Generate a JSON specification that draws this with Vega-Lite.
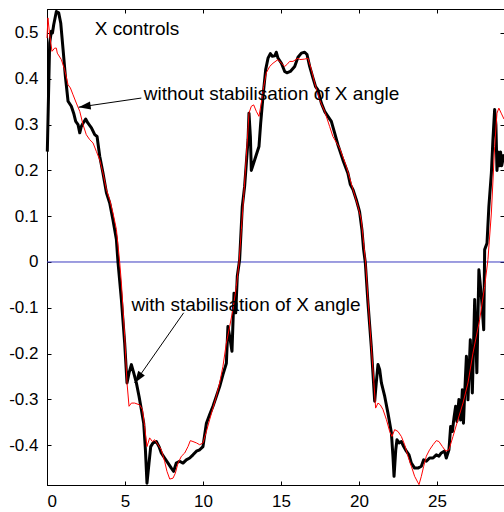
{
  "$schema": "https://vega.github.io/schema/vega-lite/v6.json",
  "width": 457,
  "height": 476,
  "autosize": {"type": "none"},
  "padding": {"left": 47, "top": 9, "right": 0, "bottom": 27},
  "background": "white",
  "config": {
    "view": {"stroke": "black", "strokeWidth": 1},
    "axis": {"grid": false, "domainColor": "black", "tickColor": "black", "labelColor": "black", "labelFont": "Liberation Sans", "labelFontSize": 17, "title": null}
  },
  "datasets": {
    "black": [
      {"t":0.02,"v":0.241},{"t":0.17,"v":0.478},{"t":0.28,"v":0.504},{"t":0.35,"v":0.5},{"t":0.43,"v":0.518},{"t":0.6,"v":0.547},{"t":0.75,"v":0.544},{"t":0.88,"v":0.522},{"t":1.03,"v":0.464},{"t":1.18,"v":0.405},{"t":1.35,"v":0.351},{"t":1.56,"v":0.34},{"t":1.71,"v":0.325},{"t":1.84,"v":0.307},{"t":1.99,"v":0.3},{"t":2.1,"v":0.282},{"t":2.2,"v":0.296},{"t":2.31,"v":0.303},{"t":2.48,"v":0.312},{"t":2.63,"v":0.303},{"t":2.85,"v":0.293},{"t":3.06,"v":0.278},{"t":3.21,"v":0.274},{"t":3.38,"v":0.231},{"t":3.59,"v":0.194},{"t":3.81,"v":0.151},{"t":4.02,"v":0.129},{"t":4.23,"v":0.092},{"t":4.45,"v":0.049},{"t":4.55,"v":0.0},{"t":4.77,"v":-0.082},{"t":4.98,"v":-0.177},{"t":5.13,"v":-0.264},{"t":5.26,"v":-0.242},{"t":5.41,"v":-0.224},{"t":5.56,"v":-0.242},{"t":5.73,"v":-0.264},{"t":5.9,"v":-0.293},{"t":6.05,"v":-0.322},{"t":6.2,"v":-0.352},{"t":6.31,"v":-0.41},{"t":6.41,"v":-0.483},{"t":6.54,"v":-0.439},{"t":6.65,"v":-0.403},{"t":6.8,"v":-0.395},{"t":7.01,"v":-0.392},{"t":7.18,"v":-0.403},{"t":7.33,"v":-0.417},{"t":7.54,"v":-0.428},{"t":7.76,"v":-0.439},{"t":7.97,"v":-0.45},{"t":8.12,"v":-0.457},{"t":8.29,"v":-0.439},{"t":8.5,"v":-0.435},{"t":8.72,"v":-0.439},{"t":8.93,"v":-0.432},{"t":9.15,"v":-0.428},{"t":9.36,"v":-0.421},{"t":9.58,"v":-0.413},{"t":9.79,"v":-0.41},{"t":10.0,"v":-0.403},{"t":10.22,"v":-0.352},{"t":10.43,"v":-0.333},{"t":10.64,"v":-0.315},{"t":10.86,"v":-0.293},{"t":11.07,"v":-0.272},{"t":11.28,"v":-0.246},{"t":11.5,"v":-0.221},{"t":11.6,"v":-0.141},{"t":11.71,"v":-0.162},{"t":11.86,"v":-0.195},{"t":11.99,"v":-0.068},{"t":12.1,"v":-0.111},{"t":12.2,"v":-0.031},{"t":12.35,"v":0.005},{"t":12.52,"v":0.121},{"t":12.67,"v":0.165},{"t":12.78,"v":0.216},{"t":12.89,"v":0.267},{"t":12.95,"v":0.325},{"t":13.04,"v":0.274},{"t":13.1,"v":0.2},{"t":13.25,"v":0.216},{"t":13.42,"v":0.234},{"t":13.59,"v":0.252},{"t":13.7,"v":0.303},{"t":13.85,"v":0.362},{"t":14.02,"v":0.42},{"t":14.17,"v":0.445},{"t":14.32,"v":0.455},{"t":14.45,"v":0.449},{"t":14.6,"v":0.45},{"t":14.7,"v":0.458},{"t":14.81,"v":0.445},{"t":15.03,"v":0.434},{"t":15.24,"v":0.416},{"t":15.38,"v":0.413},{"t":15.6,"v":0.416},{"t":15.88,"v":0.427},{"t":16.09,"v":0.447},{"t":16.31,"v":0.456},{"t":16.52,"v":0.458},{"t":16.67,"v":0.453},{"t":16.84,"v":0.427},{"t":17.05,"v":0.402},{"t":17.22,"v":0.383},{"t":17.37,"v":0.376},{"t":17.59,"v":0.347},{"t":17.8,"v":0.329},{"t":18.01,"v":0.318},{"t":18.23,"v":0.307},{"t":18.44,"v":0.282},{"t":18.65,"v":0.256},{"t":18.97,"v":0.223},{"t":19.29,"v":0.194},{"t":19.45,"v":0.169},{"t":19.62,"v":0.158},{"t":19.83,"v":0.136},{"t":20.04,"v":0.11},{"t":20.19,"v":0.071},{"t":20.3,"v":0.027},{"t":20.41,"v":-0.002},{"t":20.58,"v":-0.09},{"t":20.79,"v":-0.184},{"t":21.01,"v":-0.304},{"t":21.11,"v":-0.264},{"t":21.22,"v":-0.224},{"t":21.33,"v":-0.235},{"t":21.44,"v":-0.264},{"t":21.65,"v":-0.293},{"t":21.86,"v":-0.33},{"t":22.08,"v":-0.373},{"t":22.18,"v":-0.424},{"t":22.25,"v":-0.468},{"t":22.36,"v":-0.41},{"t":22.44,"v":-0.388},{"t":22.57,"v":-0.395},{"t":22.72,"v":-0.392},{"t":22.87,"v":-0.403},{"t":23.04,"v":-0.413},{"t":23.21,"v":-0.421},{"t":23.36,"v":-0.439},{"t":23.57,"v":-0.45},{"t":23.78,"v":-0.45},{"t":24.0,"v":-0.446},{"t":24.15,"v":-0.432},{"t":24.32,"v":-0.435},{"t":24.53,"v":-0.428},{"t":24.75,"v":-0.428},{"t":24.96,"v":-0.421},{"t":25.13,"v":-0.424},{"t":25.28,"v":-0.417},{"t":25.49,"v":-0.413},{"t":25.6,"v":-0.428},{"t":25.77,"v":-0.41},{"t":25.88,"v":-0.359},{"t":25.99,"v":-0.37},{"t":26.09,"v":-0.341},{"t":26.2,"v":-0.315},{"t":26.28,"v":-0.348},{"t":26.41,"v":-0.3},{"t":26.52,"v":-0.345},{"t":26.63,"v":-0.279},{"t":26.7,"v":-0.352},{"t":26.78,"v":-0.286},{"t":26.89,"v":-0.206},{"t":26.99,"v":-0.301},{"t":27.14,"v":-0.17},{"t":27.27,"v":-0.286},{"t":27.42,"v":-0.082},{"t":27.56,"v":-0.242},{"t":27.69,"v":-0.017},{"t":27.85,"v":-0.075},{"t":28.0,"v":-0.148},{"t":28.06,"v":0.027},{"t":28.21,"v":0.041},{"t":28.33,"v":0.121},{"t":28.49,"v":0.194},{"t":28.59,"v":0.267},{"t":28.7,"v":0.333},{"t":28.78,"v":0.3},{"t":28.85,"v":0.2},{"t":28.92,"v":0.24},{"t":29.0,"v":0.21},{"t":29.08,"v":0.24},{"t":29.15,"v":0.21},{"t":29.3,"v":0.235}
    ],
    "red": [
      {"t":0.0,"v":0.489},{"t":0.06,"v":0.533},{"t":0.17,"v":0.496},{"t":0.32,"v":0.46},{"t":0.49,"v":0.467},{"t":0.6,"v":0.467},{"t":0.66,"v":0.456},{"t":0.92,"v":0.442},{"t":1.13,"v":0.42},{"t":1.35,"v":0.387},{"t":1.5,"v":0.38},{"t":1.67,"v":0.365},{"t":1.88,"v":0.347},{"t":2.1,"v":0.329},{"t":2.31,"v":0.3},{"t":2.52,"v":0.278},{"t":2.74,"v":0.267},{"t":2.95,"v":0.26},{"t":3.17,"v":0.241},{"t":3.38,"v":0.223},{"t":3.59,"v":0.194},{"t":3.81,"v":0.158},{"t":4.02,"v":0.136},{"t":4.23,"v":0.107},{"t":4.45,"v":0.071},{"t":4.66,"v":0.0},{"t":4.77,"v":-0.046},{"t":4.98,"v":-0.162},{"t":5.13,"v":-0.264},{"t":5.26,"v":-0.315},{"t":5.41,"v":-0.308},{"t":5.62,"v":-0.308},{"t":5.94,"v":-0.312},{"t":6.12,"v":-0.322},{"t":6.26,"v":-0.359},{"t":6.41,"v":-0.403},{"t":6.58,"v":-0.384},{"t":6.76,"v":-0.392},{"t":6.9,"v":-0.388},{"t":7.12,"v":-0.399},{"t":7.33,"v":-0.41},{"t":7.54,"v":-0.435},{"t":7.69,"v":-0.457},{"t":7.87,"v":-0.474},{"t":8.08,"v":-0.472},{"t":8.23,"v":-0.461},{"t":8.4,"v":-0.439},{"t":8.62,"v":-0.424},{"t":8.83,"v":-0.417},{"t":9.04,"v":-0.403},{"t":9.19,"v":-0.39},{"t":9.36,"v":-0.392},{"t":9.58,"v":-0.395},{"t":9.79,"v":-0.399},{"t":10.0,"v":-0.395},{"t":10.22,"v":-0.37},{"t":10.43,"v":-0.344},{"t":10.64,"v":-0.319},{"t":10.86,"v":-0.293},{"t":11.07,"v":-0.264},{"t":11.28,"v":-0.228},{"t":11.5,"v":-0.177},{"t":11.71,"v":-0.141},{"t":11.92,"v":-0.104},{"t":12.14,"v":-0.053},{"t":12.31,"v":-0.002},{"t":12.46,"v":0.071},{"t":12.61,"v":0.143},{"t":12.78,"v":0.231},{"t":12.95,"v":0.325},{"t":13.1,"v":0.34},{"t":13.25,"v":0.343},{"t":13.42,"v":0.329},{"t":13.59,"v":0.318},{"t":13.74,"v":0.347},{"t":13.89,"v":0.383},{"t":14.06,"v":0.413},{"t":14.28,"v":0.427},{"t":14.49,"v":0.434},{"t":14.81,"v":0.442},{"t":15.03,"v":0.434},{"t":15.24,"v":0.427},{"t":15.38,"v":0.431},{"t":15.56,"v":0.438},{"t":15.77,"v":0.438},{"t":16.09,"v":0.445},{"t":16.22,"v":0.442},{"t":16.52,"v":0.443},{"t":16.73,"v":0.445},{"t":16.95,"v":0.42},{"t":17.16,"v":0.391},{"t":17.48,"v":0.354},{"t":17.8,"v":0.329},{"t":18.12,"v":0.296},{"t":18.33,"v":0.274},{"t":18.76,"v":0.249},{"t":19.19,"v":0.209},{"t":19.62,"v":0.158},{"t":19.94,"v":0.121},{"t":20.15,"v":0.092},{"t":20.3,"v":0.041},{"t":20.43,"v":-0.002},{"t":20.58,"v":-0.082},{"t":20.79,"v":-0.184},{"t":20.96,"v":-0.264},{"t":21.07,"v":-0.319},{"t":21.22,"v":-0.308},{"t":21.37,"v":-0.312},{"t":21.54,"v":-0.322},{"t":21.76,"v":-0.344},{"t":21.97,"v":-0.37},{"t":22.12,"v":-0.381},{"t":22.29,"v":-0.366},{"t":22.5,"v":-0.37},{"t":22.72,"v":-0.381},{"t":22.93,"v":-0.399},{"t":23.14,"v":-0.424},{"t":23.36,"v":-0.446},{"t":23.57,"v":-0.468},{"t":23.85,"v":-0.486},{"t":24.0,"v":-0.468},{"t":24.15,"v":-0.446},{"t":24.32,"v":-0.424},{"t":24.53,"v":-0.41},{"t":24.75,"v":-0.399},{"t":24.96,"v":-0.39},{"t":25.13,"v":-0.392},{"t":25.35,"v":-0.403},{"t":25.56,"v":-0.413},{"t":25.77,"v":-0.41},{"t":26.03,"v":-0.381},{"t":26.35,"v":-0.344},{"t":26.67,"v":-0.308},{"t":26.99,"v":-0.264},{"t":27.31,"v":-0.199},{"t":27.74,"v":-0.126},{"t":28.06,"v":-0.053},{"t":28.27,"v":0.005},{"t":28.49,"v":0.107},{"t":28.7,"v":0.252},{"t":28.85,"v":0.325},{"t":28.97,"v":0.336},{"t":29.12,"v":0.325},{"t":29.3,"v":0.312}
    ],
    "arrows": [
      {"label":"without","tail_t":6.05,"tail_v":0.358,"tip_t":2.03,"tip_v":0.338},
      {"label":"with","tail_t":8.76,"tail_v":-0.111,"tip_t":5.62,"tip_v":-0.264}
    ],
    "texts": [
      {"text":"X controls","t":3.06,"v":0.496},
      {"text":"without stabilisation of X angle","t":6.2,"v":0.354},
      {"text":"with stabilisation of X angle","t":5.41,"v":-0.106}
    ],
    "zero": [{"v":0}]
  },
  "resolve": {"axis": {"x": "independent", "y": "independent"}},
  "layer": [
    {
      "data": {"name": "zero"},
      "mark": {"type": "rule", "color": "#3c3cc0", "strokeWidth": 1},
      "encoding": {
        "y": {"field": "v", "type": "quantitative", "scale": {"domain": [-0.4869, 0.5524], "nice": false, "zero": false}, "axis": {"orient": "right", "labels": false, "values": [-0.4,-0.3,-0.2,-0.1,0,0.1,0.2,0.3,0.4,0.5], "tickSize": -4, "domain": false}}
      }
    },
    {
      "data": {"name": "black"},
      "mark": {"type": "line", "color": "black", "strokeWidth": 3, "strokeJoin": "round"},
      "encoding": {
        "x": {"field": "t", "type": "quantitative", "scale": {"domain": [0, 29.3], "nice": false, "zero": false}, "axis": {"orient": "bottom", "values": [0,5,10,15,20,25], "tickSize": -4, "labelPadding": 12}},
        "y": {"field": "v", "type": "quantitative", "axis": {"orient": "left", "values": [-0.4,-0.3,-0.2,-0.1,0,0.1,0.2,0.3,0.4,0.5], "tickSize": -4, "labelPadding": 13, "labelExpr": "'' + datum.value"}}
      }
    },
    {
      "data": {"name": "red"},
      "mark": {"type": "line", "color": "#ff0000", "strokeWidth": 1},
      "encoding": {
        "x": {"field": "t", "type": "quantitative", "axis": {"orient": "top", "labels": false, "values": [0,5,10,15,20,25], "tickSize": -4}},
        "y": {"field": "v", "type": "quantitative", "axis": null}
      }
    },
    {
      "data": {"name": "arrows"},
      "mark": {"type": "rule", "color": "black", "strokeWidth": 1},
      "encoding": {
        "x": {"field": "tail_t", "type": "quantitative", "axis": null},
        "y": {"field": "tail_v", "type": "quantitative", "axis": null},
        "x2": {"field": "tip_t"},
        "y2": {"field": "tip_v"}
      }
    },
    {
      "data": {"name": "arrows"},
      "transform": [{"filter": "datum.label == 'without'"}],
      "mark": {"type": "point", "shape": "M0,0L0.67,2L-0.67,2Z", "size": 144, "filled": true, "color": "black", "opacity": 1, "angle": 262},
      "encoding": {
        "x": {"field": "tip_t", "type": "quantitative", "axis": null},
        "y": {"field": "tip_v", "type": "quantitative", "axis": null}
      }
    },
    {
      "data": {"name": "arrows"},
      "transform": [{"filter": "datum.label == 'with'"}],
      "mark": {"type": "point", "shape": "M0,0L0.67,2L-0.67,2Z", "size": 144, "filled": true, "color": "black", "opacity": 1, "angle": 215},
      "encoding": {
        "x": {"field": "tip_t", "type": "quantitative", "axis": null},
        "y": {"field": "tip_v", "type": "quantitative", "axis": null}
      }
    },
    {
      "data": {"name": "texts"},
      "mark": {"type": "text", "align": "left", "baseline": "alphabetic", "font": "Liberation Sans", "fontSize": 19, "color": "black"},
      "encoding": {
        "x": {"field": "t", "type": "quantitative", "axis": null},
        "y": {"field": "v", "type": "quantitative", "axis": null},
        "text": {"field": "text"}
      }
    }
  ]
}
